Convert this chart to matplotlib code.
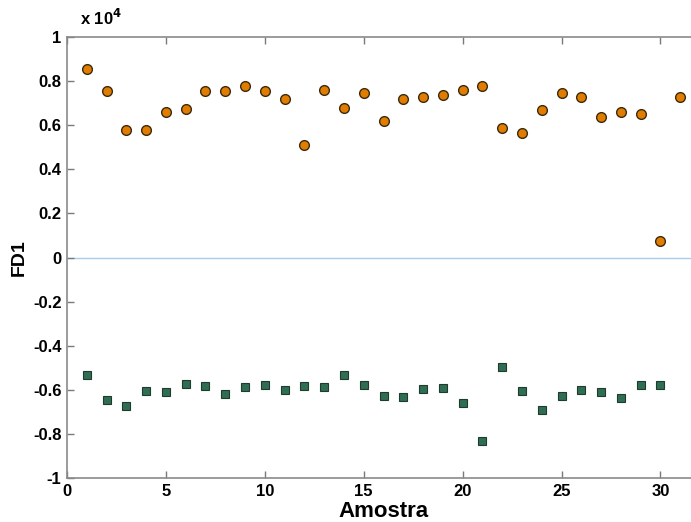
import numpy as np
import matplotlib.pyplot as plt
from matplotlib.ticker import FixedLocator, FuncFormatter

plt.rcParams['font.family'] = ['Liberation Sans', 'DejaVu Sans']

# valores (unidades reais, o eixo mostra x 10^4)
amostra_pos = list(range(1, 32))
fd1_pos = [8570, 7570, 5790, 5770, 6610, 6740, 7570, 7570, 7800, 7570,
           7170, 5110, 7590, 6760, 7470, 6210, 7210, 7300, 7380, 7590,
           7790, 5880, 5650, 6670, 7480, 7270, 6390, 6620, 6520, 770,
           7290]

amostra_neg = list(range(1, 31))
fd1_neg = [-5350, -6450, -6730, -6050, -6080, -5740, -5830, -6170, -5880, -5790,
           -6020, -5810, -5860, -5350, -5760, -6270, -6330, -5970, -5920, -6600,
           -8310, -4960, -6060, -6900, -6270, -6030, -6090, -6370, -5800, -5780]

escala = 1e4


def fmt_y(v, p):
    v = round(v, 1)
    if v == 0:
        return '0'
    return '%g' % v


fig = plt.figure(figsize=(6.91, 5.22), dpi=100)
# o eixo vai ate x=32, a borda direita fica fora da figura (imagem cortada)
ax = fig.add_axes([67/691, 44/522, 633/691, 441/522])

ax.axhline(0, color='#a9cde9', lw=1.0, zorder=1)

ax.plot(amostra_pos, np.array(fd1_pos)/escala, 'o', ms=7, mfc='#e07d00',
        mec='#3a2a10', mew=1.0, zorder=3)
ax.plot(amostra_neg, np.array(fd1_neg)/escala, 's', ms=6, mfc='#2f6e52',
        mec='#1f3a2e', mew=0.8, zorder=3)

ax.set_xlim(0, 32)
ax.set_ylim(-1, 1)
ax.xaxis.set_major_locator(FixedLocator([0, 5, 10, 15, 20, 25, 30]))
ax.yaxis.set_major_locator(FixedLocator(np.round(np.arange(-1, 1.01, 0.2), 1)))
ax.yaxis.set_major_formatter(FuncFormatter(fmt_y))

for s in ax.spines.values():
    s.set_color('#8a8a8a')
    s.set_linewidth(1.2)
ax.tick_params(direction='in', length=5, width=1, color='#7a7a7a',
               top=True, right=False, labelsize=12, pad=4)
for lab in ax.get_xticklabels() + ax.get_yticklabels():
    lab.set_fontweight('bold')

ax.set_xlabel('Amostra', fontsize=16, fontweight='bold', labelpad=2)
ax.set_ylabel('FD1', fontsize=14, fontweight='bold', labelpad=4)

fig.text(80/691, 1 - 18/522, r'x 10$^{\mathbf{4}}$', fontsize=12,
         fontweight='bold', va='center', ha='left')

fig.savefig('out.png', dpi=100)
